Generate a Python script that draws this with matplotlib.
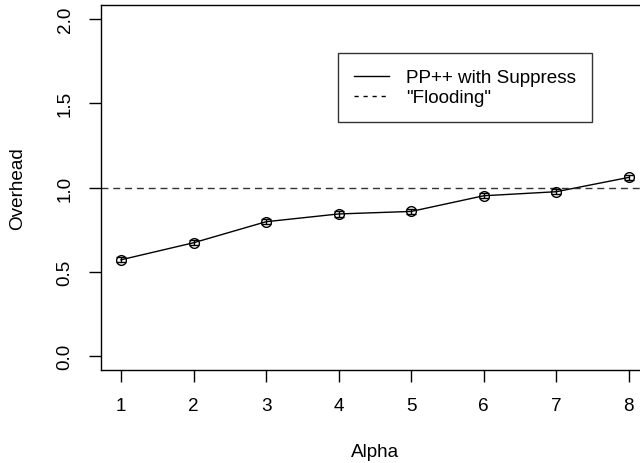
import matplotlib.pyplot as plt
from matplotlib.lines import Line2D

plt.rcParams['font.family'] = ['Liberation Sans', 'DejaVu Sans']

alpha = [1, 2, 3, 4, 5, 6, 7, 8]
overhead = [0.571, 0.672, 0.797, 0.843, 0.858, 0.951, 0.975, 1.060]
err = [0.015, 0.015, 0.015, 0.02, 0.015, 0.015, 0.015, 0.015]
flooding = 1.0

fs = 13.6

fig = plt.figure(figsize=(6.4, 4.64), dpi=100)
ax = fig.add_axes([0.1573, 0.2015, 0.857, 0.7845])

ax.plot(alpha, overhead, color='black', lw=1)
ax.errorbar(alpha, overhead, yerr=err, fmt='o', mfc='none', mec='black',
            ms=7, mew=1, ecolor='black', elinewidth=1, capsize=3.5, capthick=1)
ax.axhline(flooding, color='#333333', lw=1, ls=(0, (5, 3.5)))

ax.set_xlim(0.72, 8.28)
ax.set_ylim(-0.08, 2.08)
ax.set_xticks(alpha)
ax.set_yticks([0.0, 0.5, 1.0, 1.5, 2.0])
ax.set_yticklabels(['0.0', '0.5', '1.0', '1.5', '2.0'], rotation=90, va='center')
ax.tick_params(direction='out', length=8.5, width=1, labelsize=fs, pad=11)
for s in ax.spines.values():
    s.set_linewidth(1)

ax.set_xlabel('Alpha', fontsize=fs, labelpad=21)
ax.set_ylabel('Overhead', fontsize=fs, labelpad=22)

handles = [Line2D([], [], color='black', lw=1),
           Line2D([], [], color='black', lw=1, ls=(0, (3, 3.5)))]
leg = ax.legend(handles, ['PP++ with Suppress', '"Flooding"'],
                loc='upper left', bbox_to_anchor=(0.4326, 0.8695), fontsize=fs,
                frameon=True, fancybox=False, edgecolor='black',
                handlelength=1.85, handletextpad=0.9, borderpad=0.85, labelspacing=0.15,
                borderaxespad=0)
leg.get_frame().set_linewidth(1)

fig.savefig('out.png', dpi=100)
